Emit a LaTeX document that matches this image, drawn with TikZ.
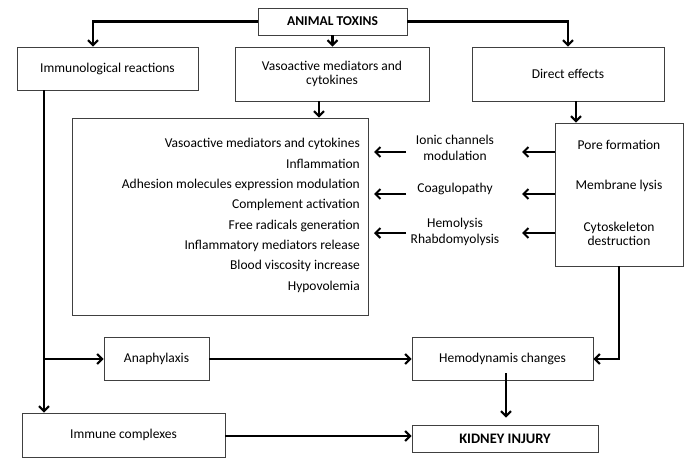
\documentclass[tikz,border=0pt]{standalone}
\usepackage{fontspec}
\setmainfont{Carlito}
\usetikzlibrary{arrows.meta}
\begin{document}
\begin{tikzpicture}[x=1pt,y=-1pt,
  box/.style={draw=black!75,line width=0.9pt,inner sep=0pt,align=center,font=\fontsize{13.5}{14.5}\selectfont},
  lbl/.style={inner sep=0pt,align=center,font=\fontsize{13.5}{16.5}\selectfont},
  lblb/.style={inner sep=0pt,align=center,font=\fontsize{13.5}{14}\selectfont},
  li/.style={inner sep=0pt,anchor=east,font=\fontsize{13.5}{14}\selectfont},
  conn/.style={line width=2.2pt,-{Straight Barb[length=5pt,width=10pt,line width=2pt]}},
  line/.style={line width=2.2pt}]
\useasboundingbox (0,0) rectangle (689,458);
% boxes
\node[box,minimum width=149,minimum height=27,font=\bfseries\fontsize{13.5}{14}\selectfont] (toxins) at (332.5,21.5) {ANIMAL TOXINS};
\node[box,minimum width=181,minimum height=43] (immuno) at (107.5,68.5) {Immunological reactions};
\node[box,minimum width=194,minimum height=54] (vaso) at (332,74) {Vasoactive mediators and\\cytokines};
\node[box,minimum width=192,minimum height=54] (direct) at (568,74) {Direct effects};
\node[box,minimum width=296,minimum height=197] (big) at (220,216.5) {};
\node[box,minimum width=128,minimum height=143] (pore) at (619,194.5) {};
\node[box,minimum width=105,minimum height=43] (ana) at (156.5,358.5) {Anaphylaxis};
\node[box,minimum width=181,minimum height=43] (hemo) at (502.5,358.5) {Hemodynamis changes};
\node[box,minimum width=203,minimum height=44] (immune) at (123.5,435) {Immune complexes};
\node[box,minimum width=186,minimum height=27,font=\bfseries\fontsize{14.5}{15}\selectfont] (kidney) at (505,438.5) {KIDNEY INJURY};
% list in big box
\foreach \t/\y [count=\i] in {Vasoactive mediators and cytokines/144,Inflammation/164,Adhesion molecules expression modulation/185,Complement activation/205,Free radicals generation/226,Inflammatory mediators release/246,Blood viscosity increase/266,Hypovolemia/287}
  \node[li] (l\i) at (360,\y) {\t};
% pore texts
\node[lbl] (p1) at (619,145) {Pore formation};
\node[lbl] (p2) at (619,186) {Membrane lysis};
\node[lblb] (p3) at (619,234) {Cytoskeleton\\destruction};
% middle labels
\node[lbl] (m1) at (455,148) {Ionic channels\\modulation};
\node[lbl] (m2) at (455,189) {Coagulopathy};
\node[lbl] (m3) at (455,232) {Hemolysis\\Rhabdomyolysis};
% coordinates
\coordinate (a1) at (522,152); \coordinate (b1) at (406,152); \coordinate (c1) at (374,152);
\coordinate (a2) at (522,194); \coordinate (b2) at (406,194); \coordinate (c2) at (374,194);
\coordinate (a3) at (522,233); \coordinate (b3) at (406,233); \coordinate (c3) at (374,233);
\coordinate (immdown) at (44,90);
\coordinate (branch) at (44,359);
\coordinate (porecorner) at (619,359);
% connectors
\draw[conn] (toxins.west) -| ([xshift=-14.5pt]immuno.north);
\draw[conn] (toxins.east) -| (direct.north);
\draw[conn] (toxins.south) -- (toxins.south |- vaso.north);
\draw[conn] ([xshift=-13pt]vaso.south) -- ([xshift=-13pt]vaso.south |- big.north);
\draw[conn] ([xshift=8pt]direct.south) -- ([xshift=8pt]direct.south |- pore.north);
\draw[conn] (pore.west |- a1) -- (a1);
\draw[conn] (pore.west |- a2) -- (a2);
\draw[conn] (pore.west |- a3) -- (a3);
\draw[conn] (b1) -- (c1);
\draw[conn] (b2) -- (c2);
\draw[conn] (b3) -- (c3);
\draw[conn] (immdown) -- (immdown |- immune.north);
\draw[conn] (branch) -- (branch -| ana.west);
\draw[conn] (ana.east |- branch) -- (branch -| hemo.west);
\draw[conn] (pore.south) -- (porecorner) -- (porecorner -| hemo.east);
\draw[conn] ([xshift=3.5pt,yshift=7pt]hemo.south) -- ([xshift=3.5pt,yshift=7pt]hemo.south |- kidney.north);
\draw[conn] (immune.east |- 0,436) -- (kidney.west |- 0,436);
\end{tikzpicture}
\end{document}
